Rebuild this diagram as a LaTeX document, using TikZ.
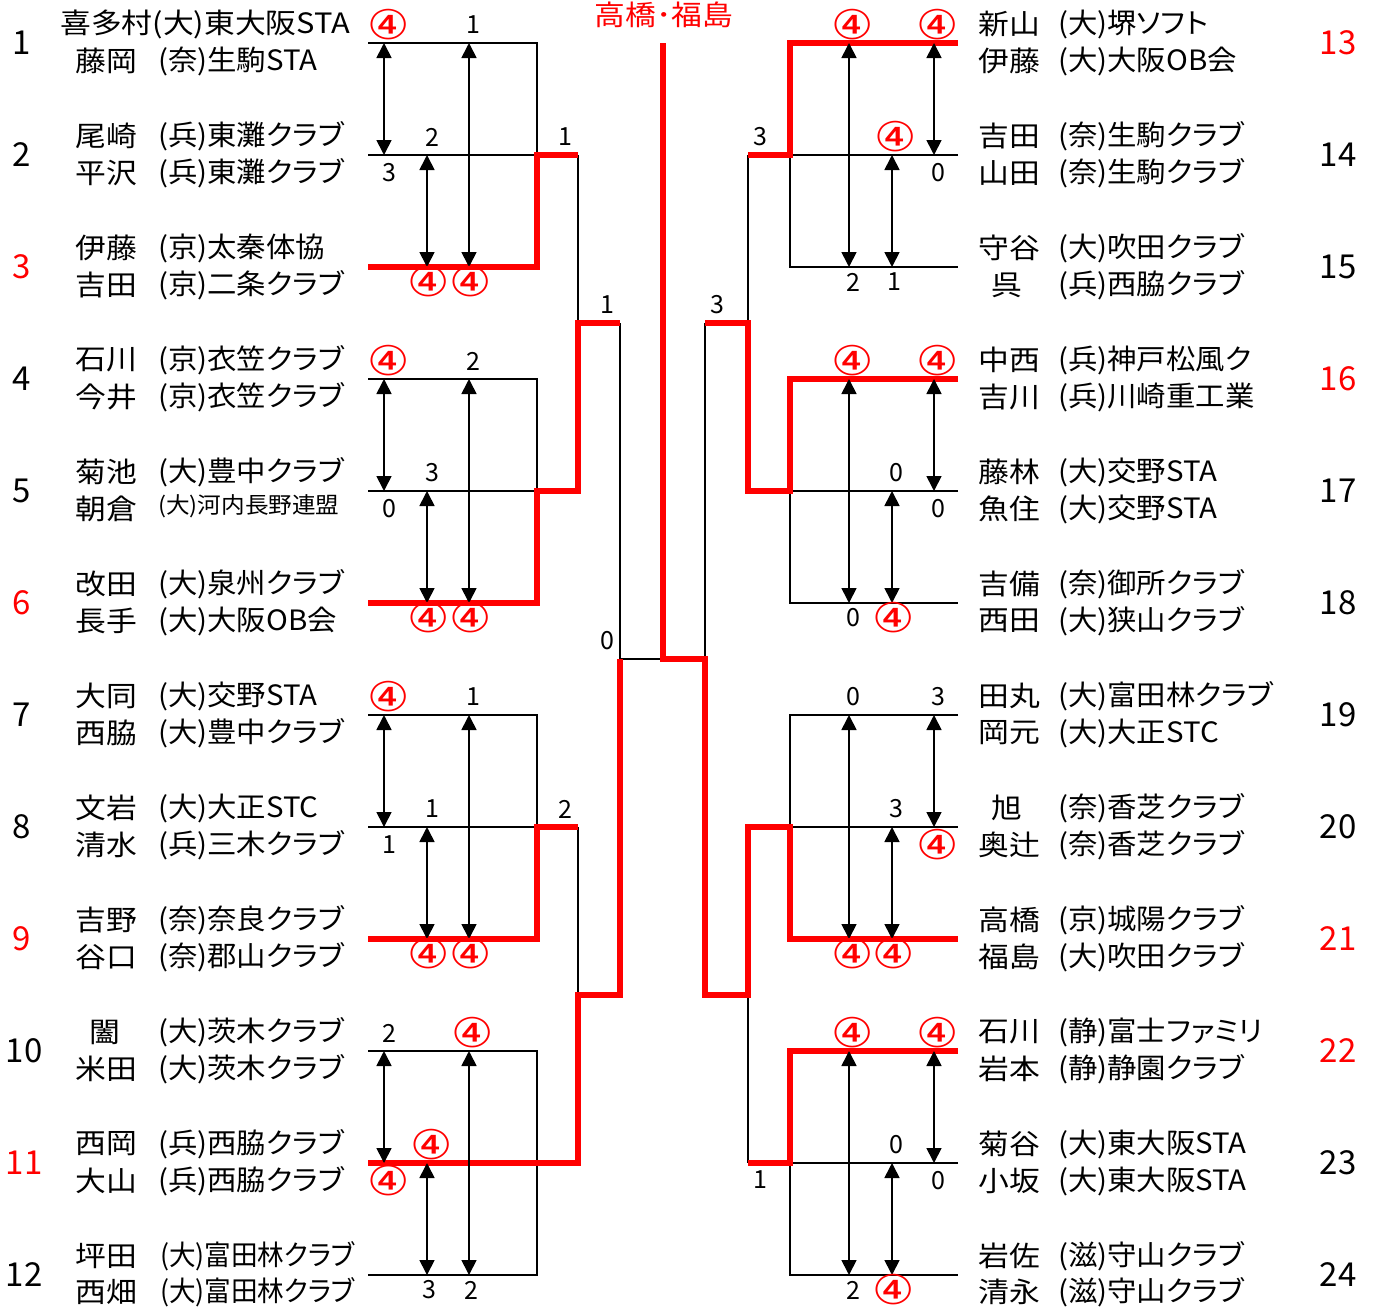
\documentclass[tikz,border=0pt]{standalone}
\usepackage{fontspec}
\setmainfont{Noto Sans CJK JP}
\newfontfamily\pf{Noto Sans CJK JP}[RawFeature=+palt]
\newfontfamily\djv{DejaVu Sans}
\usetikzlibrary{arrows.meta}
\definecolor{rd}{RGB}{255,0,0}
\newcommand\hx[1]{\scalebox{1.1}[1]{#1}}
\newcommand\hc[1]{\scalebox{1.05}[1]{\pf #1}}
\newcommand\hn[1]{\scalebox{0.95}[1]{\pf #1}}
\newcommand\C{\textcolor{rd}{\djv\fontsize{41}{42}\selectfont\scalebox{1.15}[1]{④}}}
\tikzset{
 bk/.style={line width=2.4pt, black, line join=miter},
 rl/.style={line width=5.5pt, draw=rd, line join=miter},
 arr/.style={line width=1.7pt, {Triangle[length=15pt,width=15pt]}-{Triangle[length=15pt,width=15pt]}},
 nm/.style={anchor=west, inner sep=0pt, font=\fontsize{28}{30}\selectfont},
 nms/.style={anchor=west, inner sep=0pt, font=\fontsize{22.5}{25}\selectfont},
 nmc/.style={anchor=center, inner sep=0pt, font=\fontsize{28}{30}\selectfont},
 num/.style={inner sep=0pt, font=\fontsize{33}{35}\selectfont},
 numr/.style={num, text=rd},
 sc/.style={inner sep=0pt, font=\fontsize{25}{27}\selectfont},
}
% left block: #1 = y of first line, #2..#7 scores
\newcommand\lblk[7]{%
 \draw[arr] (384,#1) -- (384,#1+112);
 \draw[arr] (427,#1+112) -- (427,#1+224);
 \draw[arr] (469,#1) -- (469,#1+224);
 \node[sc] (la#1) at (389,#1-18) {#2};
 \node[sc] (lb#1) at (473,#1-18) {#3};
 \node[sc] (lc#1) at (432,#1+94) {#4};
 \node[sc] (ld#1) at (389,#1+130) {#5};
 \node[sc] (le#1) at (429,#1+239) {#6};
 \node[sc] (lf#1) at (471,#1+239) {#7};
}
\newcommand\rblk[7]{%
 \draw[arr] (849,#1) -- (849,#1+224);
 \draw[arr] (892,#1+112) -- (892,#1+224);
 \draw[arr] (934,#1) -- (934,#1+112);
 \node[sc] (ra#1) at (853,#1-18) {#2};
 \node[sc] (rb#1) at (938,#1-18) {#3};
 \node[sc] (rc#1) at (896,#1+94) {#4};
 \node[sc] (rd#1) at (938,#1+130) {#5};
 \node[sc] (re#1) at (853,#1+239) {#6};
 \node[sc] (rf#1) at (894,#1+239) {#7};
}
% team rows: #1 name id, #2 line y, #3 name1, #4 club1, #5 name2, #6 club2
\newcommand\lteam[6]{%
 \node[nm] (ln#1a) at (75,#2-19) {\hx{#3}};
 \node[nm] (lc#1a) at (158,#2-19) {\hc{#4}};
 \node[nm] (ln#1b) at (75,#2+18) {\hx{#5}};
 \node[nm] (lc#1b) at (158,#2+18) {\hc{#6}};
}
\newcommand\rteam[6]{%
 \node[nm] (rn#1a) at (978,#2-19) {\hx{#3}};
 \node[nm] (rc#1a) at (1058,#2-19) {\hc{#4}};
 \node[nm] (rn#1b) at (978,#2+18) {\hx{#5}};
 \node[nm] (rc#1b) at (1058,#2+18) {\hc{#6}};
}
\begin{document}
\begin{tikzpicture}[x=1pt,y=-1pt]
\useasboundingbox (0,0) rectangle (1376,1309);
\fill[white] (0,0) rectangle (1376,1309);
% ---------- black bracket lines ----------
\draw[bk] (368,43)--(537,43)--(537,155); \draw[bk] (368,155)--(537,155);
\draw[bk] (368,379)--(537,379)--(537,491); \draw[bk] (368,491)--(537,491);
\draw[bk] (368,715)--(537,715)--(537,827); \draw[bk] (368,827)--(537,827);
\draw[bk] (368,1051)--(537,1051)--(537,1275)--(368,1275);
\draw[bk] (578,155)--(578,323); \draw[bk] (578,827)--(578,995);
\draw[bk] (620,323)--(620,659)--(663,659);
\draw[bk] (705,323)--(705,659);
\draw[bk] (748,155)--(748,323); \draw[bk] (748,995)--(748,1163);
\draw[bk] (958,155)--(790,155)--(790,267)--(958,267);
\draw[bk] (958,491)--(790,491)--(790,603)--(958,603);
\draw[bk] (958,715)--(790,715)--(790,827)--(958,827);
\draw[bk] (958,1163)--(790,1163)--(790,1275)--(958,1275);
% ---------- red winner lines ----------
\draw[rl] (368,267)--(537,267)--(537,155)--(578,155);
\draw[rl] (368,603)--(537,603)--(537,491)--(578,491)--(578,323)--(620,323);
\draw[rl] (368,939)--(537,939)--(537,827)--(578,827);
\draw[rl] (368,1163)--(578,1163)--(578,995)--(620,995)--(620,659);
\draw[rl] (663,43)--(663,659)--(705,659)--(705,995)--(748,995)--(748,827)--(790,827)--(790,939)--(958,939);
\draw[rl] (958,43)--(790,43)--(790,155)--(748,155);
\draw[rl] (958,379)--(790,379)--(790,491)--(748,491)--(748,323)--(705,323);
\draw[rl] (958,1051)--(790,1051)--(790,1163)--(748,1163);
% ---------- arrows and scores ----------
\lblk{43}{\C}{1}{2}{3}{\C}{\C}
\lblk{379}{\C}{2}{3}{0}{\C}{\C}
\lblk{715}{\C}{1}{1}{1}{\C}{\C}
\lblk{1051}{2}{\C}{\C}{\C}{3}{2}
\rblk{43}{\C}{\C}{\C}{0}{2}{1}
\rblk{379}{\C}{\C}{0}{0}{0}{\C}
\rblk{715}{0}{3}{3}{\C}{\C}{\C}
\rblk{1051}{\C}{\C}{0}{0}{2}{\C}
\node[sc] (q1) at (565,137) {1};
\node[sc] (q2) at (607,305) {1};
\node[sc] (q3) at (565,809) {2};
\node[sc] (q4) at (607,641) {0};
\node[sc] (q5) at (760,137) {3};
\node[sc] (q6) at (717,305) {3};
\node[sc] (q7) at (760,1180) {1};
% ---------- title ----------
\node[inner sep=0pt, text=rd, font=\fontsize{28}{30}\selectfont] (title) at (664,14.5) {\hx{高橋･福島}};
% ---------- left teams ----------
\node[nm] (ln1a) at (60,24) {\hx{喜多村(大)東大阪STA}};
\node[nm] (ln1b) at (75,61) {\hx{藤岡}};
\node[nm] (lc1b) at (158,61) {\hc{(奈)生駒STA}};
\lteam{2}{155}{尾崎}{(兵)東灘クラブ}{平沢}{(兵)東灘クラブ}
\lteam{3}{267}{伊藤}{(京)太秦体協}{吉田}{(京)二条クラブ}
\lteam{4}{379}{石川}{(京)衣笠クラブ}{今井}{(京)衣笠クラブ}
\node[nm] (ln5a) at (75,472) {\hx{菊池}};
\node[nm] (lc5a) at (158,472) {\hc{(大)豊中クラブ}};
\node[nm] (ln5b) at (75,509) {\hx{朝倉}};
\node[nms] (lc5b) at (158,506) {\hc{(大)河内長野連盟}};
\lteam{6}{603}{改田}{(大)泉州クラブ}{長手}{(大)大阪OB会}
\lteam{7}{715}{大同}{(大)交野STA}{西脇}{(大)豊中クラブ}
\lteam{8}{827}{文岩}{(大)大正STC}{清水}{(兵)三木クラブ}
\lteam{9}{939}{吉野}{(奈)奈良クラブ}{谷口}{(奈)郡山クラブ}
\node[nmc] (ln10a) at (105,1032) {\hx{闔}};
\node[nm] (lc10a) at (158,1032) {\hc{(大)茨木クラブ}};
\node[nm] (ln10b) at (75,1069) {\hx{米田}};
\node[nm] (lc10b) at (158,1069) {\hc{(大)茨木クラブ}};
\lteam{11}{1163}{西岡}{(兵)西脇クラブ}{大山}{(兵)西脇クラブ}
\node[nm] (ln12a) at (75,1256) {\hx{坪田}};
\node[nm] (lc12a) at (160,1256) {\hn{(大)富田林クラブ}};
\node[nm] (ln12b) at (75,1292) {\hx{西畑}};
\node[nm] (lc12b) at (160,1292) {\hn{(大)富田林クラブ}};
% ---------- right teams ----------
\rteam{13}{43}{新山}{(大)堺ソフト}{伊藤}{(大)大阪OB会}
\rteam{14}{155}{吉田}{(奈)生駒クラブ}{山田}{(奈)生駒クラブ}
\node[nm] (rn15a) at (978,248) {\hx{守谷}};
\node[nm] (rc15a) at (1058,248) {\hc{(大)吹田クラブ}};
\node[nmc] (rn15b) at (1007,285) {\hx{呉}};
\node[nm] (rc15b) at (1058,285) {\hc{(兵)西脇クラブ}};
\rteam{16}{379}{中西}{(兵)神戸松風ク}{吉川}{(兵)川崎重工業}
\rteam{17}{491}{藤林}{(大)交野STA}{魚住}{(大)交野STA}
\rteam{18}{603}{吉備}{(奈)御所クラブ}{西田}{(大)狭山クラブ}
\rteam{19}{715}{田丸}{(大)富田林クラブ}{岡元}{(大)大正STC}
\node[nmc] (rn20a) at (1007,808) {\hx{旭}};
\node[nm] (rc20a) at (1058,808) {\hc{(奈)香芝クラブ}};
\node[nm] (rn20b) at (978,845) {\hx{奥辻}};
\node[nm] (rc20b) at (1058,845) {\hc{(奈)香芝クラブ}};
\rteam{21}{939}{高橋}{(京)城陽クラブ}{福島}{(大)吹田クラブ}
\rteam{22}{1051}{石川}{(静)富士ファミリ}{岩本}{(静)静園クラブ}
\rteam{23}{1163}{菊谷}{(大)東大阪STA}{小坂}{(大)東大阪STA}
\node[nm] (rn24a) at (978,1256) {\hx{岩佐}};
\node[nm] (rc24a) at (1058,1256) {\hc{(滋)守山クラブ}};
\node[nm] (rn24b) at (978,1292) {\hx{清永}};
\node[nm] (rc24b) at (1058,1292) {\hc{(滋)守山クラブ}};
% ---------- seed numbers ----------
\node[num] (k1) at (22,43) {1};
\node[num] (k2) at (22,155) {2};
\node[numr] (k3) at (22,267) {3};
\node[num] (k4) at (22,379) {4};
\node[num] (k5) at (22,491) {5};
\node[numr] (k6) at (22,603) {6};
\node[num] (k7) at (22,715) {7};
\node[num] (k8) at (22,827) {8};
\node[numr] (k9) at (22,939) {9};
\node[num] (k10) at (24,1051) {10};
\node[numr] (k11) at (24,1163) {11};
\node[num] (k12) at (24,1275) {12};
\node[numr] (k13) at (1338,43) {13};
\node[num] (k14) at (1338,155) {14};
\node[num] (k15) at (1338,267) {15};
\node[numr] (k16) at (1338,379) {16};
\node[num] (k17) at (1338,491) {17};
\node[num] (k18) at (1338,603) {18};
\node[num] (k19) at (1338,715) {19};
\node[num] (k20) at (1338,827) {20};
\node[numr] (k21) at (1338,939) {21};
\node[numr] (k22) at (1338,1051) {22};
\node[num] (k23) at (1338,1163) {23};
\node[num] (k24) at (1338,1275) {24};
\end{tikzpicture}
\end{document}
